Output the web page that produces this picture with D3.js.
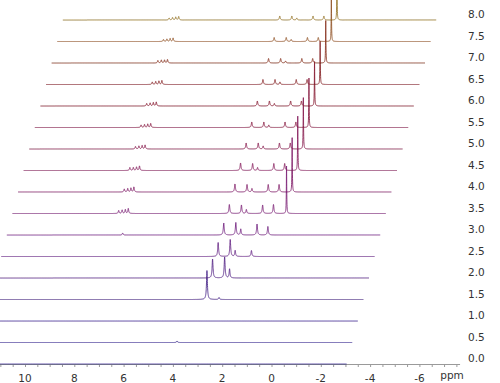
<!DOCTYPE html>
<html><head><meta charset="utf-8">
<script src="https://cdn.jsdelivr.net/npm/d3@7"></script>
<style>body{margin:0;background:#fff}svg{display:block}</style>
</head><body>
<svg id="chart" width="500" height="383"></svg>
<script>
// ---- data ----
const traceLabels = ["0.0","0.5","1.0","1.5","2.0","2.5","3.0","3.5","4.0","4.5","5.0","5.5","6.0","6.5","7.0","7.5","8.0"];
const traceColors = ["#3c3490","#40338f","#45318e","#4d2d8c","#5a2b8a","#6a2a88","#772a84","#80287a","#86266e","#8a2562","#8c2455","#8c2248","#8b2138","#8a2a2e","#8c3a28","#94582c","#9a7a32"];
const peakPpm = [4.06, 7.79, 7.65, 7.52, 7.40, 3.30, 2.81, 2.61, 1.95, 1.51, 0.98];
const peakWidth = [0.02, 0.02, 0.02, 0.02, 0.02, 0.022, 0.022, 0.02, 0.022, 0.022, 0.009];
const peakHeights = [
  [0,0,0,0,0, 0,0,0,0,0,0],
  [1.5,0,0,0,0, 0,0,0,0,0,0],
  [0,0,0,0,0, 0,0,0,0,0,0],
  [0,0,0,0,0, 29,2,0,0,0,0],
  [0,0,0,0,0, 19,21,9,0,0,0],
  [0,0,0,0,0, 14,17,6,6,0,0],
  [0,0,0,0,2, 12,12.5,6,11,8.5,0],
  [0,3,3.5,4,5, 9,8.5,4,8.5,9,48],
  [0,3,3.5,4,5, 8,7.5,3.5,7.5,7.5,55],
  [0,3,3,3.5,4.5, 7.5,7,3,7,7,55],
  [0,2.5,3,3.5,4, 6,6,3,6,6,52],
  [0,2.5,3,3.5,4, 5.5,5.5,2.5,5.5,5.5,50],
  [0,2.5,3,3.5,4, 5,5,2.5,5,5,45],
  [0,2.5,3,3.5,4, 5,5,2.5,5,5,44],
  [0,2.5,3,3,3.5, 4.5,4.5,2,4.5,4.5,43],
  [0,2,2.5,3,3.5, 4,4,2,4,4,45],
  [0,2,2.5,3,3.5, 4,4,2,4,4,45]
];
const xTicks = [10, 8, 6, 4, 2, 0, -2, -4, -6];
const traceRange = [12.1, -3.05];
const axisRange = [11.1, -7.65];

// ---- layout ----
const svg = d3.select("#chart");
const x = d3.scaleLinear().domain([10, -6]).range([25, 419.4]);
const y = d3.scaleLinear().domain([0, 100]).range([364, 264]);
const stepX = 5.6, stepY = 21.5;

// axis
const axisG = svg.append("g");
axisG.append("line")
  .attr("x1", x(axisRange[0])).attr("x2", x(axisRange[1]))
  .attr("y1", 364.5).attr("y2", 364.5)
  .attr("stroke", "#9a9a9a").attr("stroke-width", 1);
const minor = d3.range(11, -7.6, -0.5);
axisG.selectAll("line.minor").data(minor).join("line")
  .attr("class", "minor")
  .attr("x1", d => x(d) + 0.5).attr("x2", d => x(d) + 0.5)
  .attr("y1", 364).attr("y2", 367)
  .attr("stroke", "#9a9a9a").attr("stroke-width", 1);
axisG.selectAll("text.tick").data(xTicks).join("text")
  .attr("class", "tick")
  .attr("x", d => x(d)).attr("y", 382)
  .attr("text-anchor", "middle")
  .attr("font-family", "DejaVu Sans, sans-serif").attr("font-size", 10.5)
  .attr("fill", "#333")
  .text(d => d < 0 ? "-" + Math.abs(d) : d);
axisG.append("text")
  .attr("x", 452).attr("y", 379)
  .attr("text-anchor", "middle")
  .attr("font-family", "DejaVu Sans, sans-serif").attr("font-size", 10.5)
  .attr("fill", "#333").text("ppm");

// traces
const ppmSamples = d3.range(traceRange[0], traceRange[1], -0.003);
function intensity(row, p) {
  let s = 0;
  for (let k = 0; k < peakPpm.length; k++) {
    const h = row[k];
    if (!h) continue;
    const t = (p - peakPpm[k]) / peakWidth[k];
    s += h / (1 + t * t);
  }
  return s;
}
traceLabels.forEach((lab, i) => {
  const row = peakHeights[i];
  const line = d3.line()
    .x(p => x(p) + stepX * i)
    .y(p => y(intensity(row, p)) - stepY * i);
  svg.append("path")
    .attr("d", line(ppmSamples))
    .attr("fill", "none")
    .attr("stroke", traceColors[i])
    .attr("stroke-width", 0.9);
  svg.append("text")
    .attr("x", 468).attr("y", 362 - stepY * i)
    .attr("font-family", "DejaVu Sans, sans-serif").attr("font-size", 10.5)
    .attr("fill", "#333").text(lab);
});
</script>
</body></html>
